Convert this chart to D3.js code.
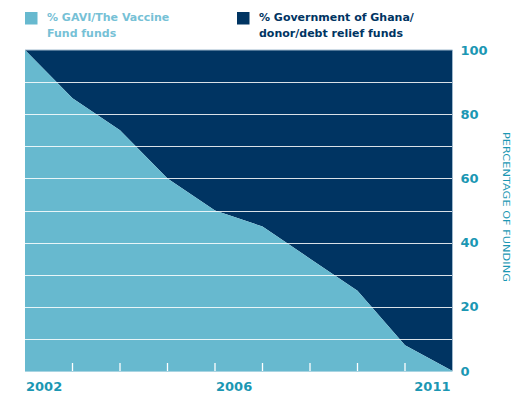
<!DOCTYPE html>
<html><head><meta charset="utf-8">
<script src="https://cdn.jsdelivr.net/npm/d3@7"></script>
<style>body{margin:0;background:#fff}svg{display:block}</style>
</head><body>
<script>
const years = [2002,2003,2004,2005,2006,2007,2008,2009,2010,2011];
const gaviPct = [100,85,75,60,50,45,35,25,8,0];
const yTicks = [0,20,40,60,80,100];
const gridVals = [10,20,30,40,50,60,70,80,90];
const xLabelYears = [2002,2006,2011];
const legendLabels = [["% GAVI/The Vaccine","Fund funds"],["% Government of Ghana/","donor/debt relief funds"]];

const W=514,H=394;
const light="#67b9cf", dark="#003462", teal="#1b97b3";
const m={left:25,right:61.5,top:50,bottom:23};
const svg=d3.select("body").append("svg").attr("width",W).attr("height",H);
const x=d3.scaleLinear().domain([2002,2011]).range([m.left,W-m.right]);
const y=d3.scaleLinear().domain([0,100]).range([H-m.bottom,m.top]);
const data=years.map((yr,i)=>({yr,v:gaviPct[i]}));

svg.append("path").datum(data).attr("fill",dark)
  .attr("d",d3.area().x(d=>x(d.yr)).y0(y(100)).y1(d=>y(d.v)));
svg.append("path").datum(data).attr("fill",light)
  .attr("d",d3.area().x(d=>x(d.yr)).y0(y(0)).y1(d=>y(d.v)));

svg.append("g").selectAll("line").data(gridVals).join("line")
  .attr("x1",x(2002)).attr("x2",x(2011)).attr("y1",d=>Math.round(y(d))+0.5).attr("y2",d=>Math.round(y(d))+0.5)
  .attr("stroke","#fff").attr("stroke-opacity",0.85).attr("stroke-width",1.2);

// plot edge
svg.append("path").attr("fill","none").attr("stroke","#9fb8cc").attr("stroke-width",1)
  .attr("d",`M${x(2002)},${y(100)}H${x(2011)}V${y(0)}`);
svg.append("line").attr("x1",x(2002)).attr("x2",x(2011)).attr("y1",y(0)+0.5).attr("y2",y(0)+0.5)
  .attr("stroke","#a8d4e2").attr("stroke-width",1);

// bottom ticks inside
svg.append("g").selectAll("line").data(years.slice(1,-1)).join("line")
  .attr("x1",d=>x(d)).attr("x2",d=>x(d)).attr("y1",y(0)-8).attr("y2",y(0))
  .attr("stroke","#fff").attr("stroke-width",1.3);

const font="DejaVu Sans, sans-serif";
// right axis labels
svg.append("g").selectAll("text").data(yTicks).join("text")
  .attr("x",x(2011)+8).attr("y",d=>y(d)).attr("dy","0.36em")
  .attr("font-family",font).attr("font-weight","bold").attr("font-size",13)
  .attr("fill",teal).text(d=>d);

// bottom labels
svg.append("g").selectAll("text").data(xLabelYears).join("text")
  .attr("x",d=>d===2011?x(d)-2:x(d)+1).attr("y",H-3)
  .attr("text-anchor",d=>d===2011?"end":"start")
  .attr("font-family",font).attr("font-weight","bold").attr("font-size",13)
  .attr("fill",teal).text(d=>d);

// rotated axis title
svg.append("text").attr("transform",`translate(503,207) rotate(90)`)
  .attr("text-anchor","middle").attr("font-family",font).attr("font-size",9.5)
  .attr("fill",teal).attr("textLength",150).attr("lengthAdjust","spacingAndGlyphs")
  .text("PERCENTAGE OF FUNDING");

// legend
const legX=[25,237], legColors=[light,dark], textColors=["#76c1d6",dark];
legendLabels.forEach((lines,i)=>{
  svg.append("rect").attr("x",legX[i]).attr("y",12).attr("width",12.5).attr("height",12.5).attr("fill",legColors[i]);
  const t=svg.append("text").attr("font-family",font).attr("font-weight","bold").attr("font-size",11).attr("fill",textColors[i]);
  lines.forEach((l,j)=>t.append("tspan").attr("x",legX[i]+22).attr("y",21+j*16).text(l));
});
</script>
</body></html>
